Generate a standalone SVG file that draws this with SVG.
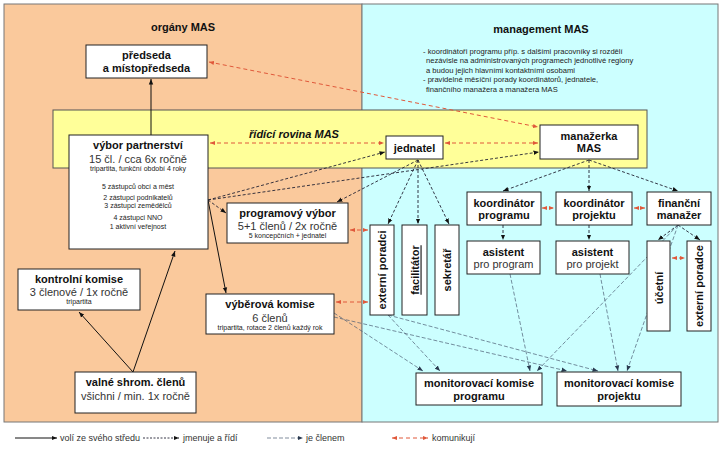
<svg xmlns="http://www.w3.org/2000/svg" width="725" height="454" viewBox="0 0 725 454">
<style>
text{font-family:"Liberation Sans",Arial,sans-serif;fill:#111}
.b{font-weight:bold;font-size:11px;text-anchor:middle}
.n{font-size:11px;text-anchor:middle;fill:#333}
.s{font-size:7px;text-anchor:middle;fill:#222}
.box{fill:#fff;stroke:#222;stroke-width:1}
.solid{stroke:#111;stroke-width:1;fill:none;marker-end:url(#ab)}
.dk{stroke:#223;stroke-width:0.9;fill:none;stroke-dasharray:3 2;marker-end:url(#ab)}
.lt{stroke:#4a5b72;stroke-width:0.7;fill:none;stroke-dasharray:4 2;marker-end:url(#al)}
.rd{stroke:#e0583a;stroke-width:1;fill:none;stroke-dasharray:4 3;marker-end:url(#ar);marker-start:url(#ar)}
.v{font-weight:bold;font-size:11px;text-anchor:middle;dominant-baseline:central}
.lg{font-size:9px;fill:#333}
.note{font-size:7.6px;fill:#222}
</style>
<defs>
<marker id="ab" viewBox="0 0 10 10" refX="10" refY="5" markerWidth="5.5" markerHeight="5.5" markerUnits="userSpaceOnUse" orient="auto"><path d="M0,1 L10,5 L0,9z" fill="#111"/></marker>
<marker id="al" viewBox="0 0 10 10" refX="10" refY="5" markerWidth="5.5" markerHeight="5.5" markerUnits="userSpaceOnUse" orient="auto"><path d="M0,1 L10,5 L0,9z" fill="#2a3a50"/></marker>
<marker id="ar" viewBox="0 0 10 10" refX="10" refY="5" markerWidth="5" markerHeight="5" markerUnits="userSpaceOnUse" orient="auto-start-reverse"><path d="M0,1 L10,5 L0,9z" fill="#e0583a"/></marker>
</defs>
<rect width="725" height="454" fill="#fff"/>
<g id="panels">
<rect x="4" y="4" width="358" height="418" fill="#fac99c" stroke="#777" stroke-width="1"/>
<rect x="362" y="4" width="356" height="418" fill="#ccffff" stroke="#777" stroke-width="1"/>
<rect x="53" y="110" width="594" height="58" fill="#ffff99" stroke="#555" stroke-width="1"/>
<text x="183" y="31" style="font-weight:bold;font-size:11px;text-anchor:middle">orgány MAS</text>
<text x="541" y="33" style="font-weight:bold;font-size:11px;text-anchor:middle">management MAS</text>
<text x="294" y="138" style="font-weight:bold;font-style:italic;font-size:11px;text-anchor:middle">řídící rovina MAS</text>
<text class="note" x="423" y="54">- koordinátoři programu příp. s dalšími pracovníky si rozdělí</text>
<text class="note" x="426" y="63">nezávisle na administrovaných programech jednotlivé regiony</text>
<text class="note" x="426" y="73">a budou jejich hlavními kontaktními osobami</text>
<text class="note" x="423" y="82">- pravidelné měsíční porady koordinátorů, jednatele,</text>
<text class="note" x="426" y="92">finančního manažera a manažera MAS</text>
</g>
<g id="connectors">
<line class="solid" x1="151" y1="135" x2="151" y2="79"/>
<line class="solid" x1="133" y1="372" x2="79" y2="312"/>
<line class="solid" x1="133" y1="372" x2="175" y2="251"/>
<line class="solid" x1="208" y1="200" x2="226" y2="293"/>
<line class="dk" x1="208" y1="200" x2="226" y2="213"/>
<line class="dk" x1="208" y1="200" x2="385" y2="152"/>
<line class="dk" x1="208" y1="200" x2="539" y2="152"/>
<line class="dk" x1="418" y1="160" x2="337" y2="202"/>
<line class="dk" x1="418" y1="160" x2="388" y2="224"/>
<line class="dk" x1="418" y1="160" x2="418" y2="224"/>
<line class="dk" x1="418" y1="160" x2="449" y2="224"/>
<line class="dk" x1="589" y1="160" x2="503" y2="191"/>
<line class="dk" x1="589" y1="160" x2="589" y2="191"/>
<line class="dk" x1="589" y1="160" x2="678" y2="191"/>
<line class="dk" x1="503" y1="225" x2="503" y2="240"/>
<line class="dk" x1="589" y1="225" x2="589" y2="240"/>
<line class="dk" x1="678" y1="225" x2="658" y2="240"/>
<line class="dk" x1="678" y1="225" x2="700" y2="240"/>
<line class="lt" x1="334" y1="313" x2="423" y2="371"/>
<line class="lt" x1="334" y1="317" x2="567" y2="371"/>
<line class="lt" x1="388" y1="315" x2="440" y2="371"/>
<line class="lt" x1="388" y1="315" x2="598" y2="371"/>
<line class="lt" x1="510" y1="274" x2="530" y2="371"/>
<line class="lt" x1="600" y1="274" x2="618" y2="371"/>
<line class="lt" x1="678" y1="225" x2="537" y2="371"/>
<line class="lt" x1="678" y1="225" x2="627" y2="371"/>
<line class="rd" x1="210" y1="143" x2="384" y2="143"/>
<line class="rd" x1="445" y1="143" x2="538" y2="143"/>
<line class="rd" x1="209" y1="62" x2="538" y2="127"/>
<line class="rd" x1="350" y1="230" x2="368" y2="230"/>
<line class="rd" x1="336" y1="302" x2="368" y2="302"/>
<line class="rd" x1="542" y1="208" x2="554" y2="208"/>
<line class="rd" x1="634" y1="208" x2="645" y2="208"/>
<line class="rd" x1="672" y1="258" x2="685" y2="258"/>
</g>
<g id="predseda"><rect class="box" x="86" y="45" width="121" height="33"/><text class="b" x="146.5" y="59">předseda</text><text class="b" x="146.5" y="72">a místopředseda</text></g>
<g id="vybor-partnerstvi"><rect class="box" x="69" y="135" width="139" height="114"/>
<text class="b" x="138" y="149">výbor partnerství</text>
<text class="n" x="138" y="163">15 čl. / cca 6x ročně</text>
<text class="s" x="138" y="171">tripartita, funkční období 4 roky</text>
<text class="s" x="138" y="188.5">5 zástupců obcí a měst</text>
<text class="s" x="138" y="199.5">2 zástupci podnikatelů</text>
<text class="s" x="138" y="208">3 zástupci zemědělců</text>
<text class="s" x="138" y="219.5">4 zástupci NNO</text>
<text class="s" x="138" y="228.5">1 aktivní veřejnost</text></g>
<g id="jednatel"><rect class="box" x="386" y="136" width="57" height="23"/><text class="b" x="414.5" y="151.5">jednatel</text></g>
<g id="manazerka"><rect class="box" x="540" y="125" width="98" height="34"/><text class="b" x="589" y="140">manažerka</text><text class="b" x="589" y="152">MAS</text></g>
<g id="programovy-vybor"><rect class="box" x="227" y="203" width="121" height="40"/><text class="b" x="287.5" y="217">programový výbor</text><text class="n" x="287.5" y="230">5+1 členů / 2x ročně</text><text class="s" x="287.5" y="238">5 koncepčních + jednatel</text></g>
<g id="externi-poradci"><rect class="box" x="370" y="225" width="24" height="90"/><text class="v" transform="translate(382,270) rotate(-90)">externí poradci</text></g>
<g id="facilitator"><rect class="box" x="402" y="225" width="25" height="90"/><text class="v" transform="translate(414.5,270) rotate(-90)" text-decoration="underline">facilitátor</text></g>
<g id="sekretar"><rect class="box" x="435" y="225" width="24" height="90"/><text class="v" transform="translate(447,270) rotate(-90)">sekretář</text></g>
<g id="koordinator-programu"><rect class="box" x="467" y="192" width="74" height="33"/><text class="b" x="504" y="206.5">koordinátor</text><text class="b" x="504" y="219">programu</text></g>
<g id="koordinator-projektu"><rect class="box" x="556" y="192" width="76" height="33"/><text class="b" x="594" y="206.5">koordinátor</text><text class="b" x="594" y="219">projektu</text></g>
<g id="financni-manazer"><rect class="box" x="647" y="192" width="64" height="33"/><text class="b" x="679" y="206.5">finanční</text><text class="b" x="679" y="219">manažer</text></g>
<g id="asistent-program"><rect class="box" x="467" y="241" width="73" height="33"/><text class="b" x="503.5" y="256">asistent</text><text class="n" x="503.5" y="268">pro program</text></g>
<g id="asistent-projekt"><rect class="box" x="556" y="241" width="73" height="33"/><text class="b" x="592.5" y="256">asistent</text><text class="n" x="592.5" y="268">pro projekt</text></g>
<g id="ucetni"><rect class="box" x="647" y="241" width="23" height="90"/><text class="v" transform="translate(658.5,288) rotate(-90)">účetní</text></g>
<g id="externi-poradce"><rect class="box" x="687" y="241" width="24" height="90"/><text class="v" transform="translate(699,286) rotate(-90)">externí poradce</text></g>
<g id="vyberova-komise"><rect class="box" x="206" y="294" width="128" height="40"/><text class="b" x="270" y="308">výběrová komise</text><text class="n" x="270" y="322">6 členů</text><text class="s" x="270" y="330">tripartita, rotace 2 členů každý rok</text></g>
<g id="kontrolni-komise"><rect class="box" x="18" y="269" width="122" height="41"/><text class="b" x="79" y="283">kontrolní komise</text><text class="n" x="79" y="296">3 členové / 1x ročně</text><text class="s" x="79" y="304">tripartita</text></g>
<g id="valne-shromazdeni"><rect class="box" x="75" y="372" width="121" height="41"/><text class="b" x="135.5" y="386">valné shrom. členů</text><text class="n" x="135.5" y="400">všichni / min. 1x ročně</text></g>
<g id="mon-programu"><rect class="box" x="416" y="373" width="126" height="32"/><text class="b" x="479" y="387">monitorovací komise</text><text class="b" x="479" y="400">programu</text></g>
<g id="mon-projektu"><rect class="box" x="557" y="372" width="124" height="34"/><text class="b" x="619" y="387">monitorovací komise</text><text class="b" x="619" y="400">projektu</text></g>
<g id="legend">
<line class="solid" x1="15" y1="438" x2="57" y2="438"/><text class="lg" x="60" y="441">volí ze svého středu</text>
<line class="dk" x1="143" y1="438" x2="179" y2="438" style="stroke-dasharray:2 1.5"/><text class="lg" x="183" y="441">jmenuje a řídí</text>
<line class="lt" x1="267" y1="438" x2="303" y2="438"/><text class="lg" x="306" y="441">je členem</text>
<line class="rd" x1="392" y1="438" x2="428" y2="438"/><text class="lg" x="432" y="441">komunikují</text>
</g>
</svg>
